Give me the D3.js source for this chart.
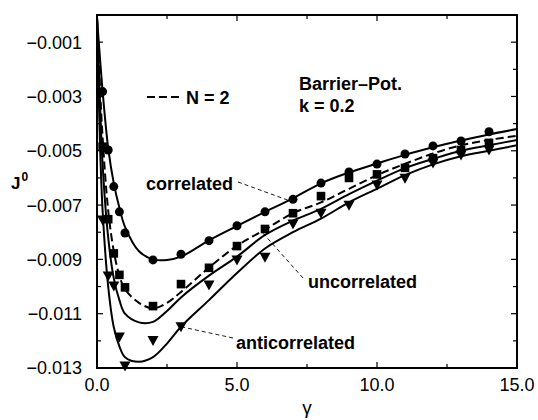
<!DOCTYPE html>
<html>
<head>
<meta charset="utf-8">
<script src="https://cdn.jsdelivr.net/npm/d3@7"></script>
<style>
  html, body { margin: 0; padding: 0; background: #fff; }
  text { font-family: "Liberation Sans", Arial, Helvetica, sans-serif; fill: #000; }
</style>
</head>
<body>
<svg id="chart" width="538" height="420"></svg>
<script>
// ---- data ----
const markerGamma = [0.2, 0.4, 0.6, 0.8, 1, 2, 3, 4, 5, 6, 7, 8, 9, 10, 11, 12, 13, 14];
const correlatedPts = [-0.00282, -0.00497, -0.00632, -0.00725, -0.00803, -0.00902, -0.00881, -0.00831, -0.00776, -0.00725, -0.00679, -0.00619, -0.00578, -0.00549, -0.00512, -0.00482, -0.00464, -0.00430];
const uncorrelatedPts = [-0.00485, -0.00752, -0.00878, -0.00957, -0.01003, -0.01072, -0.00991, -0.00931, -0.00851, -0.00788, -0.00730, -0.00667, -0.00600, -0.00587, -0.00563, -0.00527, -0.00497, -0.00471];
const anticorrelatedPts = [-0.00755, -0.00961, -0.00998, -0.01186, -0.01293, -0.01199, -0.01148, -0.00994, -0.00902, -0.00892, -0.00770, -0.00730, -0.00701, -0.00626, -0.00601, -0.00545, -0.00516, -0.00497];

const curveGamma = [0, 0.1, 0.2, 0.4, 0.6, 0.8, 1, 1.5, 2, 2.5, 3, 4, 5, 6, 7, 8, 9, 10, 11, 12, 13, 14, 15];
const correlatedCurve = [-0.0001, -0.0015, -0.0028, -0.0049, -0.0062, -0.0071, -0.0078, -0.0087, -0.0090, -0.00902, -0.0089, -0.0083, -0.00777, -0.00725, -0.00675, -0.0062, -0.0058, -0.00547, -0.00515, -0.00487, -0.00462, -0.0044, -0.0042];
const uncorrelatedN2Curve = [-0.0001, -0.0025, -0.0045, -0.0072, -0.0087, -0.0096, -0.0101, -0.0106, -0.0108, -0.0106, -0.0102, -0.0093, -0.0085, -0.0079, -0.0073, -0.0069, -0.0064, -0.0059, -0.00548, -0.0051, -0.0048, -0.0046, -0.00445];
const uncorrelatedCurve = [-0.0001, -0.0030, -0.0055, -0.0082, -0.0097, -0.0105, -0.0110, -0.01132, -0.0113, -0.0109, -0.0104, -0.0096, -0.0089, -0.0081, -0.00757, -0.00714, -0.0066, -0.0061, -0.00564, -0.0053, -0.0050, -0.0048, -0.0046];
const anticorrelatedCurve = [-0.0001, -0.0045, -0.0072, -0.0100, -0.0115, -0.0122, -0.0126, -0.01277, -0.0126, -0.0121, -0.01148, -0.0105, -0.0095, -0.0086, -0.0080, -0.0075, -0.0069, -0.0064, -0.0059, -0.0055, -0.0052, -0.0050, -0.0048];

const xMajorTicks = [0, 5, 10, 15];
const xMinorTicks = [2.5, 7.5, 12.5];
const xTickLabels = ["0.0", "5.0", "10.0", "15.0"];
const yMajorTicks = [-0.013, -0.011, -0.009, -0.007, -0.005, -0.003, -0.001];
const yMinorTicks = [-0.012, -0.010, -0.008, -0.006, -0.004, -0.002];
const yTickLabels = ["\u22120.013", "\u22120.011", "\u22120.009", "\u22120.007", "\u22120.005", "\u22120.003", "\u22120.001"];

// ---- layout ----
const svg = d3.select("#chart");
const L = 97, R = 517, T = 15, B = 368;
const x = d3.scaleLinear().domain([0, 15]).range([L, R]);
const y = d3.scaleLinear().domain([-0.013, 0]).range([B, T]);

svg.append("defs").append("clipPath").attr("id", "clip")
  .append("rect").attr("x", L).attr("y", T).attr("width", R - L).attr("height", B - T);

// ticks (inward on all sides)
const tk = svg.append("g").attr("stroke", "#000").attr("stroke-width", 1.2);
xMajorTicks.forEach(v => {
  tk.append("line").attr("x1", x(v)).attr("x2", x(v)).attr("y1", B).attr("y2", B - 6);
  tk.append("line").attr("x1", x(v)).attr("x2", x(v)).attr("y1", T).attr("y2", T + 6);
});
xMinorTicks.forEach(v => {
  tk.append("line").attr("x1", x(v)).attr("x2", x(v)).attr("y1", B).attr("y2", B - 4);
  tk.append("line").attr("x1", x(v)).attr("x2", x(v)).attr("y1", T).attr("y2", T + 4);
});
yMajorTicks.forEach(v => {
  tk.append("line").attr("x1", L).attr("x2", L + 6).attr("y1", y(v)).attr("y2", y(v));
  tk.append("line").attr("x1", R).attr("x2", R - 6).attr("y1", y(v)).attr("y2", y(v));
});
yMinorTicks.forEach(v => {
  tk.append("line").attr("x1", L).attr("x2", L + 4).attr("y1", y(v)).attr("y2", y(v));
  tk.append("line").attr("x1", R).attr("x2", R - 4).attr("y1", y(v)).attr("y2", y(v));
});

// tick labels
xMajorTicks.forEach((v, i) => {
  svg.append("text").attr("x", x(v)).attr("y", 391).attr("text-anchor", "middle")
    .attr("font-size", 18).text(xTickLabels[i]);
});
yMajorTicks.forEach((v, i) => {
  svg.append("text").attr("x", 82).attr("y", y(v)).attr("dy", "0.36em").attr("text-anchor", "end")
    .attr("font-size", 18).text(yTickLabels[i]);
});

// axis titles
const jl = svg.append("text").attr("x", 11).attr("y", 189).attr("font-size", 17).attr("font-weight", "bold");
jl.append("tspan").text("J");
jl.append("tspan").attr("font-size", 12).attr("dy", -8).attr("dx", 1).text("0");
svg.append("text").attr("x", (L + R) / 2).attr("y", 414).attr("text-anchor", "middle")
  .attr("font-size", 19).text("\u03b3");

// curves
const plot = svg.append("g").attr("clip-path", "url(#clip)");
const line = d3.line().x(d => x(d[0])).y(d => y(d[1])).curve(d3.curveCatmullRom.alpha(0.5));
function drawCurve(vals, dash) {
  plot.append("path").datum(curveGamma.map((g, i) => [g, vals[i]]))
    .attr("d", line).attr("fill", "none").attr("stroke", "#000").attr("stroke-width", 2)
    .attr("stroke-dasharray", dash || null);
}
drawCurve(correlatedCurve);
drawCurve(uncorrelatedCurve);
drawCurve(anticorrelatedCurve);
drawCurve(uncorrelatedN2Curve, "8,4");

// markers
const mk = svg.append("g").attr("fill", "#000");
markerGamma.forEach((g, i) => {
  mk.append("circle").attr("cx", x(g)).attr("cy", y(correlatedPts[i])).attr("r", 4.5);
  mk.append("rect").attr("x", x(g) - 4.3).attr("y", y(uncorrelatedPts[i]) - 4.3).attr("width", 8.6).attr("height", 8.6);
  mk.append("path").attr("transform", `translate(${x(g)},${y(anticorrelatedPts[i])})`)
    .attr("d", "M-5.5,-4.5L5.5,-4.5L0,5.5Z");
});

// frame
svg.append("rect").attr("x", L).attr("y", T).attr("width", R - L).attr("height", B - T)
  .attr("fill", "none").attr("stroke", "#000").attr("stroke-width", 2);

// legend
svg.append("line").attr("x1", 147).attr("x2", 180).attr("y1", 97).attr("y2", 97)
  .attr("stroke", "#000").attr("stroke-width", 2).attr("stroke-dasharray", "8,4");
svg.append("text").attr("x", 186).attr("y", 104).attr("font-size", 18).attr("font-weight", "bold").text("N = 2");
svg.append("text").attr("x", 299).attr("y", 90).attr("font-size", 18).attr("font-weight", "bold").text("Barrier\u2013Pot.");
svg.append("text").attr("x", 299).attr("y", 112).attr("font-size", 18).attr("font-weight", "bold").text("k = 0.2");

// annotations
const ann = svg.append("g").attr("stroke", "#000").attr("stroke-width", 0.9).attr("stroke-dasharray", "4,3");
ann.append("line").attr("x1", 238).attr("y1", 182).attr("x2", x(6.9)).attr("y2", y(-0.00685));
ann.append("line").attr("x1", 303).attr("y1", 278).attr("x2", x(5.9)).attr("y2", y(-0.0080));
ann.append("line").attr("x1", 233).attr("y1", 338).attr("x2", x(3)).attr("y2", y(-0.01148));
svg.append("text").attr("x", 146).attr("y", 190).attr("font-size", 18).attr("font-weight", "bold").text("correlated");
svg.append("text").attr("x", 308).attr("y", 288).attr("font-size", 18).attr("font-weight", "bold").text("uncorrelated");
svg.append("text").attr("x", 236).attr("y", 349).attr("font-size", 18).attr("font-weight", "bold").text("anticorrelated");
</script>
</body>
</html>
